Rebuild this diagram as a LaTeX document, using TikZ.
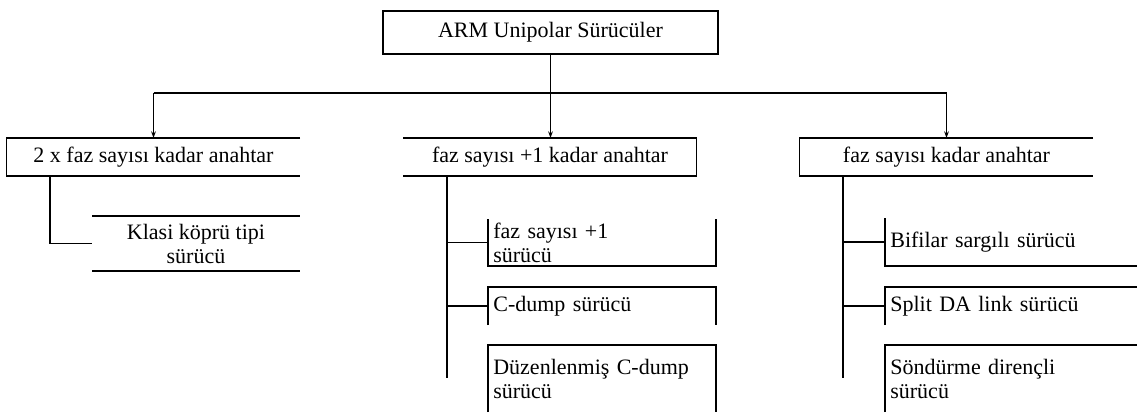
\documentclass[tikz,border=0pt]{standalone}
\usepackage{fontspec}
\setmainfont{Liberation Serif}
\usetikzlibrary{arrows.meta}

\tikzset{
  rootbox/.style={draw, align=center, minimum width=251.25pt, minimum height=32.25pt, inner sep=0pt, outer sep=0pt},
  headbox/.style={align=center, minimum width=220pt, minimum height=28.5pt, inner sep=0pt, outer sep=0pt},
  leafbox/.style={align=left, inner xsep=4pt, inner ysep=0pt, outer sep=0pt},
  midbox/.style={align=center, minimum width=156pt, minimum height=41.25pt, inner sep=0pt, outer sep=0pt},
  tip/.style={-{Stealth[length=5pt,width=3.5pt]}}
}

\begin{document}
\begin{tikzpicture}[x=0.75pt, y=-0.75pt, line width=0.9pt,
  font=\fontsize{16.5}{18}\selectfont]
  \useasboundingbox (0,0) rectangle (1144,412);
  % Root
  \node[rootbox] (root) at (550.5,32.5) {ARM Unipolar Sürücüler};
  % Three groups
  \node[headbox] (L) at (153.5,157) {2 x faz sayısı kadar anahtar};
  \node[headbox] (M) at (550,157) {faz sayısı +1 kadar anahtar};
  \node[headbox] (R) at (946.5,157) {faz sayısı kadar anahtar};
  \draw (L.north east) -- (L.north west) -- (L.south west) -- (L.south east);
  \draw (M.north west) -- (M.north east) -- (M.south east) -- (M.south west);
  \draw (R.north east) -- (R.north west) -- (R.south west) -- (R.south east);
  % Bus
  \coordinate (bus) at (550.5,93);
  \draw (L.north |- bus) -- (R.north |- bus);
  \draw[tip] (root.south) -- (root.south |- M.north);
  \draw[tip] (L.north |- bus) -- (L.north);
  \draw[tip] (R.north |- bus) -- (R.north);
  % Left branch
  \node[midbox] (K) at (196,243.5) {Klasi köprü tipi\\sürücü};
  \draw (K.north west) -- (K.north east);
  \draw (K.south west) -- (K.south east);
  \coordinate (Ltop) at (50,176);
  \draw (Ltop) |- (K.west);
  % Middle branch
  \node[leafbox, text width=163pt, minimum height=35.25pt] (M1) at (602,242.5) {faz sayısı +1\\sürücü};
  \node[leafbox, text width=163pt, minimum height=28.5pt] (M2) at (602,306) {C-dump sürücü};
  \node[leafbox, text width=163pt, minimum height=50.25pt] (M3) at (602,378.5) {Düzenlenmiş C-dump\\sürücü};
  \draw (M1.north west) -- (M1.south west) -- (M1.south east) -- (M1.north east);
  \draw (M2.south west) -- (M2.north west) -- (M2.north east) -- (M2.south east);
  \draw (M3.south west) -- (M3.north west) -- (M3.north east) -- (M3.south east);
  \coordinate (Mtop) at (447,176);
  \coordinate (Mend) at (447,378);
  \draw (Mtop) -- (Mend);
  \draw (Mtop |- M1.west) -- (M1.west);
  \draw (Mtop |- M2.west) -- (M2.west);
  % Right branch
  \node[leafbox, text width=181pt, minimum height=36pt] (R1) at (1011,242) {Bifilar sargılı sürücü};
  \node[leafbox, text width=181pt, minimum height=28.5pt] (R2) at (1011,306) {Split DA link sürücü};
  \node[leafbox, text width=181pt, minimum height=50.25pt] (R3) at (1011,378.5) {Söndürme dirençli\\sürücü};
  \draw (R1.north west) -- (R1.south west) -- (R1.south east);
  \draw (R2.south west) -- (R2.north west) -- (R2.north east);
  \draw (R3.south west) -- (R3.north west) -- (R3.north east);
  \coordinate (Rtop) at (843,176);
  \coordinate (Rend) at (843,378);
  \draw (Rtop) -- (Rend);
  \draw (Rtop |- R1.west) -- (R1.west);
  \draw (Rtop |- R2.west) -- (R2.west);
\end{tikzpicture}
\end{document}
